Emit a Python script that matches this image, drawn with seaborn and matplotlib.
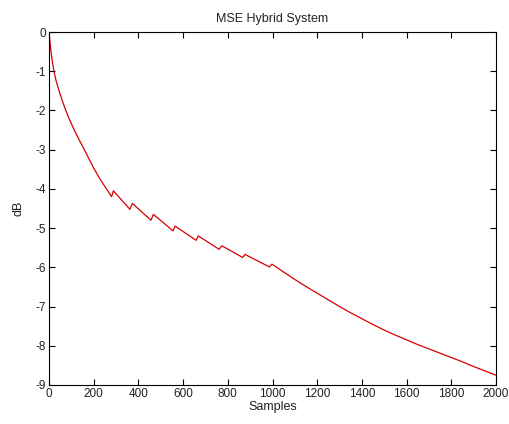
import numpy as np
import pandas as pd
import matplotlib
matplotlib.use('Agg')
import matplotlib.pyplot as plt
import seaborn as sns

# values
samples = [0, 1, 3, 5, 9, 14, 22, 32, 45, 58, 75, 93, 113, 135, 158, 180, 203,
           222, 243, 262, 280, 288, 362, 373, 456, 467, 555, 564, 658, 668,
           761, 773, 867, 877, 986, 998, 1050, 1100, 1150, 1200, 1250, 1300,
           1350, 1400, 1450, 1500, 1550, 1600, 1650, 1700, 1750, 1800, 1850,
           1900, 1950, 2000]
mse_db = [0, -0.07, -0.18, -0.3, -0.5, -0.72, -1.0, -1.25, -1.5, -1.73, -2.0,
          -2.25, -2.5, -2.75, -3.0, -3.25, -3.5, -3.69, -3.88, -4.04, -4.2,
          -4.05, -4.52, -4.37, -4.80, -4.65, -5.07, -4.95, -5.31, -5.20,
          -5.54, -5.45, -5.75, -5.67, -5.99, -5.92, -6.12, -6.31, -6.49,
          -6.66, -6.83, -7.00, -7.16, -7.31, -7.46, -7.60, -7.73, -7.85,
          -7.97, -8.08, -8.19, -8.30, -8.41, -8.53, -8.64, -8.75]
x_ticks = [0, 200, 400, 600, 800, 1000, 1200, 1400, 1600, 1800, 2000]
y_ticks = [0, -1, -2, -3, -4, -5, -6, -7, -8, -9]

df = pd.DataFrame({'Samples': samples, 'dB': mse_db})

sns.set_style("ticks")
plt.rcParams['font.family'] = ['Liberation Sans', 'DejaVu Sans']
plt.rcParams['axes.unicode_minus'] = False
plt.rcParams['xtick.direction'] = 'in'
plt.rcParams['ytick.direction'] = 'in'

fig = plt.figure(figsize=(5.09, 4.24), dpi=100)
ax = fig.add_axes([0.0963, 0.092, 0.8782, 0.8325])

sns.lineplot(data=df, x='Samples', y='dB', color='#d40000', linewidth=0.9,
             estimator=None, sort=False, ax=ax)

ax.set_xlim(0, 2000)
ax.set_ylim(-9, 0)
ax.set_xticks(x_ticks)
ax.set_yticks(y_ticks)
ax.tick_params(top=True, right=True, length=4, width=0.8, labelsize=8.5,
               colors='black', labelcolor='#222222', pad=2)
for s in ax.spines.values():
    s.set_visible(True)
    s.set_linewidth(0.8)
    s.set_color('black')

ax.set_title('MSE Hybrid System', fontsize=9, pad=7, color='#222222')
ax.set_xlabel('Samples', fontsize=9, labelpad=1, color='#222222')
ax.set_ylabel('dB', fontsize=9, labelpad=8, color='#222222')

plt.savefig('out.png', dpi=100, facecolor='white')
